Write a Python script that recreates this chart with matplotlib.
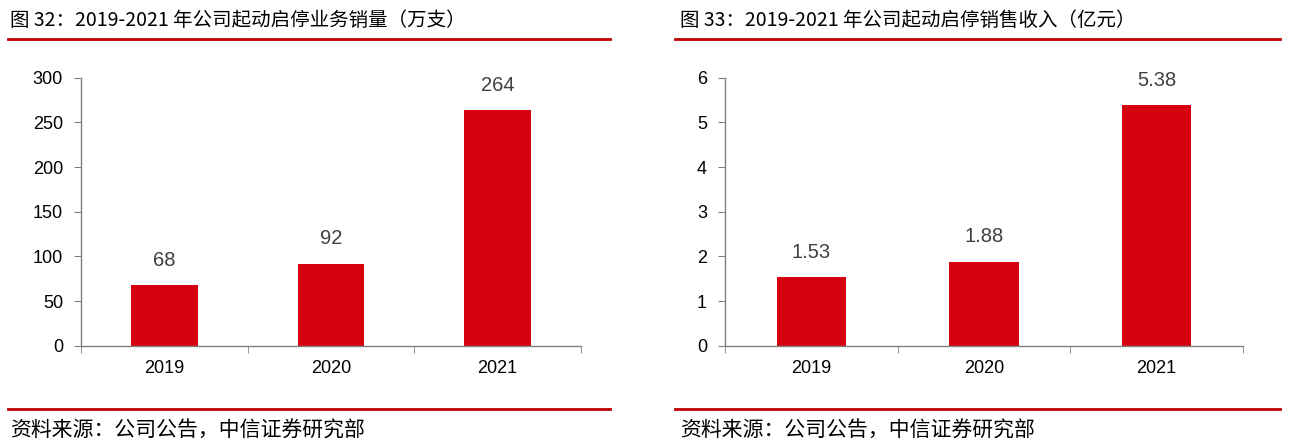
import matplotlib.pyplot as plt

plt.rcParams['font.family'] = ['Liberation Sans', 'Noto Sans CJK SC', 'DejaVu Sans']

# data
years = ['2019', '2020', '2021']
sales_volume = [68, 92, 264]          # 万支
sales_revenue = [1.53, 1.88, 5.38]    # 亿元
volume_labels = ['68', '92', '264']
revenue_labels = ['1.53', '1.88', '5.38']

titles = ['图 32：2019-2021 年公司起动启停业务销量（万支）',
          '图 33：2019-2021 年公司起动启停销售收入（亿元）']
source = '资料来源：公司公告，中信证券研究部'

bar_color = '#D7000F'
line_color = '#C00000'
axis_color = '#808080'

fig = plt.figure(figsize=(12.89, 4.45), dpi=100)
W, H = 1289, 445

panels = [
    dict(rect=[81, 581], values=sales_volume, labels=volume_labels,
         ylim=300, yticks=range(0, 301, 50), title=titles[0], tx=10, line=(8, 610)),
    dict(rect=[725, 1243], values=sales_revenue, labels=revenue_labels,
         ylim=6, yticks=range(0, 7), title=titles[1], tx=680, line=(675, 1280)),
]

for p in panels:
    x0, x1 = p['rect']
    ax = fig.add_axes([x0 / W, (H - 345.7) / H, (x1 - x0) / W, 268 / H])
    xs = range(len(years))
    ax.bar(xs, p['values'], width=0.4, color=bar_color, zorder=2)
    for x, v, s in zip(xs, p['values'], p['labels']):
        ax.annotate(s, (x, v), xytext=(0, 11), textcoords='offset points',
                    ha='center', va='bottom', fontsize=14.5, color='#404040',
                    family=['Liberation Sans', 'DejaVu Sans'])
    ax.set_xlim(-0.5, len(years) - 0.5)
    ax.set_ylim(0, p['ylim'])
    ax.set_yticks(list(p['yticks']))
    ax.set_xticks(list(xs))
    ax.set_xticklabels(years)
    ax.set_xticks([-0.5, 0.5, 1.5, 2.5], minor=True)
    ax.tick_params(axis='x', which='major', length=0, pad=10, labelsize=13)
    ax.tick_params(axis='x', which='minor', length=5, color=axis_color, direction='out')
    ax.tick_params(axis='y', length=5, color=axis_color, labelsize=13, pad=8)
    for side in ['top', 'right']:
        ax.spines[side].set_visible(False)
    for side in ['left', 'bottom']:
        ax.spines[side].set_color(axis_color)
        ax.spines[side].set_linewidth(1.0)

    # title, red rules and source line
    fig.text(p['tx'] / W, 1 - 20 / H, p['title'], fontsize=14, va='center',
             family=['Noto Sans CJK SC', 'DejaVu Sans'])
    lx0, lx1 = p['line']
    for ly in (39, 409):
        fig.add_artist(plt.Line2D([lx0 / W, lx1 / W], [1 - ly / H, 1 - ly / H],
                                  color=line_color, lw=2, transform=fig.transFigure))
    fig.text(p['tx'] / W, 1 - 431 / H, source, fontsize=15, va='center',
             family=['Noto Sans CJK SC', 'DejaVu Sans'])

plt.savefig('out.png', dpi=100)
